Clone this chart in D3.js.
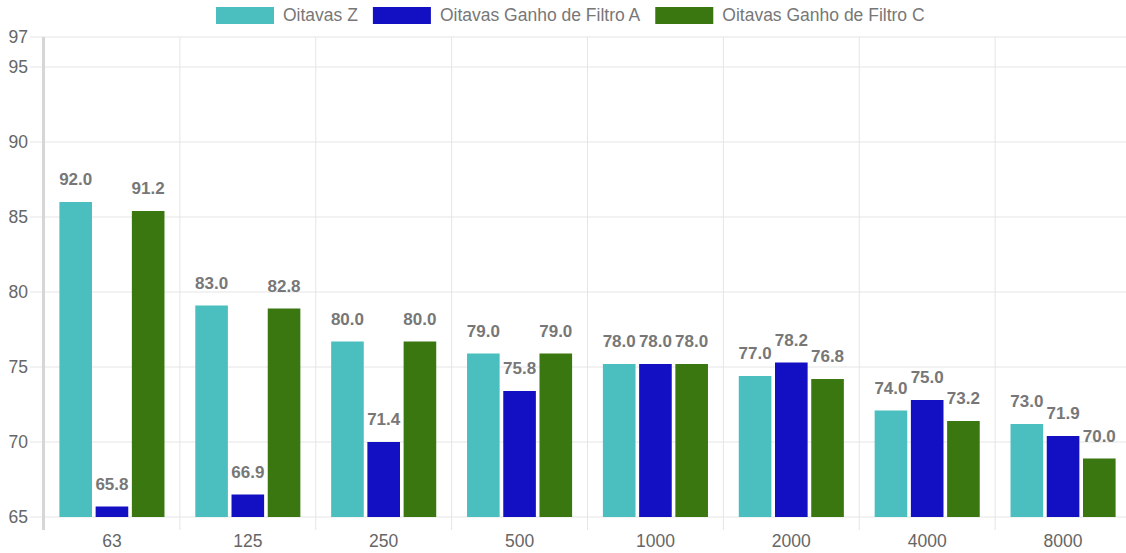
<!DOCTYPE html>
<html>
<head>
<meta charset="utf-8">
<script src="https://cdn.jsdelivr.net/npm/d3@7"></script>
<style>
  body { margin: 0; background: #fff; }
  svg { display: block; font-family: "Liberation Sans", Arial, sans-serif; }
</style>
</head>
<body>
<div id="chart"></div>
<script>
const width = 1126;
const height = 553;

// bands (Hz)
const categories = ["63", "125", "250", "500", "1000", "2000", "4000", "8000"];

// bar heights as drawn on the axis
const zValues = [86.0, 79.1, 76.7, 75.9, 75.2, 74.4, 72.1, 71.2];
const aValues = [65.7, 66.5, 70.0, 73.4, 75.2, 75.3, 72.8, 70.4];
const cValues = [85.4, 78.9, 76.7, 75.9, 75.2, 74.2, 71.4, 68.9];

// value labels printed above the bars
const zLabels = ["92.0", "83.0", "80.0", "79.0", "78.0", "77.0", "74.0", "73.0"];
const aLabels = ["65.8", "66.9", "71.4", "75.8", "78.0", "78.2", "75.0", "71.9"];
const cLabels = ["91.2", "82.8", "80.0", "79.0", "78.0", "76.8", "73.2", "70.0"];

const seriesNames = ["Oitavas Z", "Oitavas Ganho de Filtro A", "Oitavas Ganho de Filtro C"];
const seriesColors = ["#4bbfc0", "#130fc2", "#3a7710"];
const yTicks = [65, 70, 75, 80, 85, 90, 95, 97];

const series = [
  { name: seriesNames[0], color: seriesColors[0], values: zValues, labels: zLabels },
  { name: seriesNames[1], color: seriesColors[1], values: aValues, labels: aLabels },
  { name: seriesNames[2], color: seriesColors[2], values: cValues, labels: cLabels }
];

const plotLeft = 44, plotRight = 1131, plotTop = 37, plotBottom = 517;

const svg = d3.select("#chart").append("svg")
  .attr("width", width)
  .attr("height", height);

const x = d3.scaleBand().domain(categories).range([plotLeft, plotRight]);
const x1 = d3.scaleBand().domain(d3.range(3))
  .range([0, x.bandwidth() * 0.8]).paddingInner(0.1).paddingOuter(0.05);
const groupOffset = x.bandwidth() * 0.1;
const y = d3.scaleLinear().domain([65, 97]).range([plotBottom, plotTop]);

// horizontal grid + y ticks
svg.append("g").selectAll("line").data(yTicks).enter().append("line")
  .attr("x1", plotLeft - 14).attr("x2", plotRight)
  .attr("y1", (d) => y(d)).attr("y2", (d) => y(d))
  .style("stroke", "#e5e5e5").style("stroke-width", 1);

svg.append("g").selectAll("text").data(yTicks).enter().append("text")
  .attr("x", 28).attr("y", (d) => y(d) + 6)
  .attr("text-anchor", "end")
  .style("font-size", "17.5px").style("fill", "#666")
  .text((d) => d);

// vertical grid
const vLines = categories.map((c) => x(c)).concat([plotRight]);
svg.append("g").selectAll("line").data(vLines).enter().append("line")
  .attr("x1", (d) => d).attr("x2", (d) => d)
  .attr("y1", plotTop).attr("y2", plotBottom + 13)
  .style("stroke", "#e5e5e5").style("stroke-width", 1);

// y axis line
svg.append("line")
  .attr("x1", plotLeft - 0.5).attr("x2", plotLeft - 0.5)
  .attr("y1", plotTop).attr("y2", plotBottom + 13)
  .style("stroke", "#d6d6d6").style("stroke-width", 3);

// x labels
svg.append("g").selectAll("text").data(categories).enter().append("text")
  .attr("x", (d) => x(d) + x.bandwidth() / 2).attr("y", 547)
  .attr("text-anchor", "middle")
  .style("font-size", "17.5px").style("fill", "#666")
  .text((d) => d);

// bars
series.forEach((s, i) => {
  const g = svg.append("g");
  g.selectAll("rect").data(s.values).enter().append("rect")
    .attr("x", (d, j) => x(categories[j]) + groupOffset + x1(i))
    .attr("width", x1.bandwidth())
    .attr("y", (d) => y(d))
    .attr("height", (d) => y(65) - y(d))
    .style("fill", s.color);

  g.selectAll("text").data(s.values).enter().append("text")
    .attr("x", (d, j) => x(categories[j]) + groupOffset + x1(i) + x1.bandwidth() / 2)
    .attr("y", (d) => y(d) - 17)
    .attr("text-anchor", "middle")
    .style("font-size", "17px").style("font-weight", "bold").style("fill", "#777")
    .text((d, j) => s.labels[j]);
});

// legend
const legend = svg.append("g");
let lx = 216;
series.forEach((s) => {
  legend.append("rect")
    .attr("x", lx).attr("y", 7).attr("width", 58).attr("height", 17)
    .style("fill", s.color);
  const t = legend.append("text")
    .attr("x", lx + 67).attr("y", 21)
    .style("font-size", "17.5px").style("fill", "#777")
    .text(s.name);
  lx += 67 + t.node().getComputedTextLength() + 15;
});
</script>
</body>
</html>
